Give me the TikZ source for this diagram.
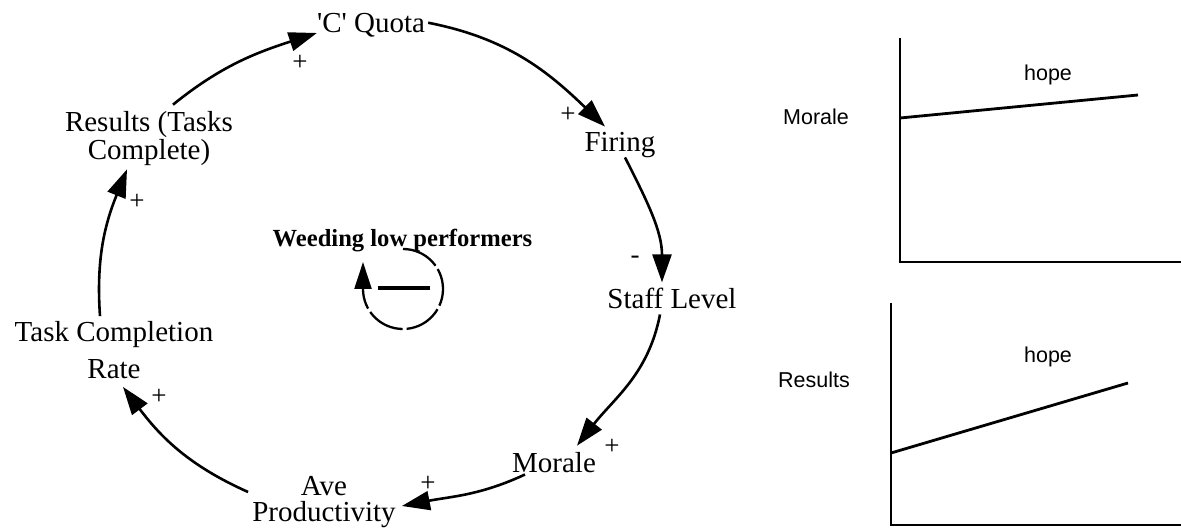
\documentclass[tikz,border=0pt]{standalone}
\usepackage{fontspec}
\setmainfont{Liberation Serif}[Ligatures=TeXOff]
\setsansfont{Liberation Sans}
\usetikzlibrary{arrows.meta}

\begin{document}
\begin{tikzpicture}[x=1pt,y=-1pt,
  var/.style={font=\fontsize{29}{29}\selectfont, inner sep=0pt, align=center},
  link/.style={line width=2.6pt, -{Triangle[length=28pt,width=19pt]}},
  pol/.style={font=\fontsize{27}{27}\selectfont, inner sep=0pt},
  loopname/.style={font=\bfseries\fontsize{24.6}{24.6}\selectfont, inner sep=0pt},
  axisline/.style={line width=2.6pt},
  trend/.style={line width=2.8pt},
  glabel/.style={font=\sffamily\fontsize{21.5}{21.5}\selectfont, inner sep=0pt}
]
\useasboundingbox (0,0) rectangle (1181,529);

% --- causal loop variables ---
\node[var, anchor=base] (quota) at (371,33) {'C' Quota};
\node[var, anchor=base] (firing) at (620,152) {Firing};
\node[var, anchor=base] (staff) at (672,309) {Staff Level};
\node[var, anchor=base] (morale) at (554,472) {Morale};
\node[var, font=\fontsize{29}{26.5}\selectfont] (ave) at (324,502) {Ave\\Productivity};
\node[var, font=\fontsize{29}{37}\selectfont] (task) at (114,350) {Task Completion\\Rate};
\node[var, font=\fontsize{29}{28}\selectfont] (results) at (149,139) {Results (Tasks\\Complete)};

% --- causal links ---
\draw[link] ([xshift=24pt,yshift=7pt]results.north) to[out=39,in=198] (quota.base west);
\draw[link] ([xshift=3pt,yshift=3pt]quota.east) to[out=-11,in=136] ([xshift=-15pt,yshift=6pt]firing.north);
\draw[link] ([xshift=5pt,yshift=1pt]firing.south) to[out=-63,in=90] ([xshift=-10pt,yshift=6pt]staff.north);
\draw[link] ([xshift=-12pt,yshift=-5pt]staff.south) to[out=-101,in=52] ([xshift=23pt,yshift=6pt]morale.north);
\draw[link] ([xshift=-29pt,yshift=-2pt]morale.south) to[out=-155,in=11] ([xshift=6pt,yshift=-4pt]ave.east);
\draw[link] ([xshift=-4pt,yshift=10pt]ave.west) to[out=156,in=-53] ([xshift=9pt,yshift=-8pt]task.south);
\draw[link] ([xshift=-14pt,yshift=5pt]task.north) to[out=94,in=-112] ([xshift=-22pt,yshift=-3pt]results.south);

% --- link polarities ---
\node[pol] (pquota) at (300,63) {+};
\node[pol] (pfiring) at (568,115) {+};
\node[pol] (pstaff) at (635,260) {-};
\node[pol] (pmorale) at (612,447) {+};
\node[pol] (pave) at (428,484) {+};
\node[pol] (ptask) at (159,397) {+};
\node[pol] (presults) at (137,202) {+};

% --- balancing loop marker ---
\coordinate (loopc) at (403,289);
\node[loopname, anchor=base] (lname) at (402.5,247) {Weeding low performers};
\draw[line width=2.3pt, dash pattern=on 38pt off 4pt, -{Triangle[length=27pt,width=17pt]}]
  ([yshift=40pt]loopc) arc[start angle=-90, end angle=180, radius=40] -- ++(0,-27);
\draw[line width=4pt] ([xshift=-25pt,yshift=1pt]loopc) -- ([xshift=27pt,yshift=1pt]loopc);

% --- morale sketch graph ---
\coordinate (mtop) at (900,38);
\coordinate (morig) at (900,262);
\coordinate (mend) at (1181,262);
\draw[axisline] (mtop) -- (morig) -- (mend);
\draw[trend] (900,118) -- (1138,95);
\node[glabel] (mhope) at (1048,75) {hope};
\node[glabel] (mlabel) at (816,117) {Morale};

% --- results sketch graph ---
\coordinate (rtop) at (891,303);
\coordinate (rorig) at (891,525);
\coordinate (rend) at (1181,525);
\draw[axisline] (rtop) -- (rorig) -- (rend);
\draw[trend] (891,453) -- (1128,383);
\node[glabel] (rhope) at (1048,357) {hope};
\node[glabel] (rlabel) at (814,380) {Results};
\end{tikzpicture}
\end{document}
